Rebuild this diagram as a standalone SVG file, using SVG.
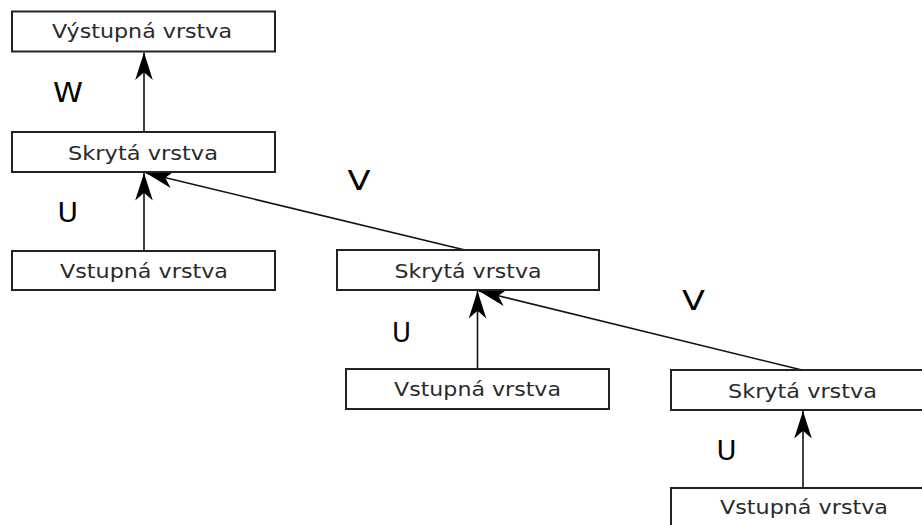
<svg xmlns="http://www.w3.org/2000/svg" width="922" height="525" viewBox="0 0 922 525">
  <style>
    .box { fill: #ffffff; stroke: #222222; stroke-width: 2; }
    .lbl { font-family: "DejaVu Sans", "Liberation Sans", sans-serif; font-size: 20px; fill: #2a2a2a; text-anchor: middle; }
    .w { font-family: "DejaVu Sans", "Liberation Sans", sans-serif; font-size: 27px; fill: #000000; }
    .edge { fill: none; stroke: #111111; stroke-width: 1.6; marker-end: url(#head); }
  </style>
  <defs>
    <marker id="head" markerUnits="userSpaceOnUse" markerWidth="30" markerHeight="22" viewBox="-26 -10 27 20" refX="0" refY="0" orient="auto">
      <path d="M0,0 L-25,-8 L-18,0 L-25,8 Z" fill="#000000"/>
    </marker>
  </defs>
  <rect width="922" height="525" fill="#ffffff"/>

  <!-- connectors -->
  <g id="connectors">
    <line class="edge" x1="144" y1="132" x2="144" y2="52.5"/>
    <line class="edge" x1="144" y1="251" x2="144" y2="173"/>
    <line class="edge" x1="465" y1="250" x2="146" y2="173"/>
    <line class="edge" x1="477.5" y1="369" x2="477.5" y2="291"/>
    <line class="edge" x1="802" y1="370" x2="479" y2="291"/>
    <line class="edge" x1="803" y1="488" x2="803" y2="411"/>
  </g>

  <!-- weight labels -->
  <g id="weights">
    <text class="w" x="53" y="102" textLength="30" lengthAdjust="spacingAndGlyphs">W</text>
    <text class="w" x="57.5" y="222" textLength="20.5" lengthAdjust="spacingAndGlyphs">U</text>
    <text class="w" x="347.5" y="190" textLength="23" lengthAdjust="spacingAndGlyphs">V</text>
    <text class="w" x="392" y="342" textLength="19" lengthAdjust="spacingAndGlyphs">U</text>
    <text class="w" x="682" y="310" textLength="23" lengthAdjust="spacingAndGlyphs">V</text>
    <text class="w" x="716.5" y="460" textLength="20" lengthAdjust="spacingAndGlyphs">U</text>
  </g>

  <!-- layers -->
  <g id="output">
    <rect class="box" x="12" y="11.5" width="263" height="40"/>
    <text class="lbl" x="142" y="38" textLength="180" lengthAdjust="spacingAndGlyphs">Výstupná vrstva</text>
  </g>
  <g id="hidden1">
    <rect class="box" x="12" y="132" width="263" height="40"/>
    <text class="lbl" x="143" y="159.5" textLength="150" lengthAdjust="spacingAndGlyphs">Skrytá vrstva</text>
  </g>
  <g id="input1">
    <rect class="box" x="12" y="251" width="263" height="39"/>
    <text class="lbl" x="144" y="278" textLength="168" lengthAdjust="spacingAndGlyphs">Vstupná vrstva</text>
  </g>
  <g id="hidden2">
    <rect class="box" x="337" y="250" width="262" height="40"/>
    <text class="lbl" x="468" y="278" textLength="147" lengthAdjust="spacingAndGlyphs">Skrytá vrstva</text>
  </g>
  <g id="input2">
    <rect class="box" x="346" y="369" width="263" height="40"/>
    <text class="lbl" x="477.5" y="395.5" textLength="167" lengthAdjust="spacingAndGlyphs">Vstupná vrstva</text>
  </g>
  <g id="hidden3">
    <rect class="box" x="671" y="370" width="263" height="40"/>
    <text class="lbl" x="802.5" y="398" textLength="149" lengthAdjust="spacingAndGlyphs">Skrytá vrstva</text>
  </g>
  <g id="input3">
    <rect class="box" x="671" y="488" width="263" height="40"/>
    <text class="lbl" x="804" y="513.5" textLength="168" lengthAdjust="spacingAndGlyphs">Vstupná vrstva</text>
  </g>
</svg>
